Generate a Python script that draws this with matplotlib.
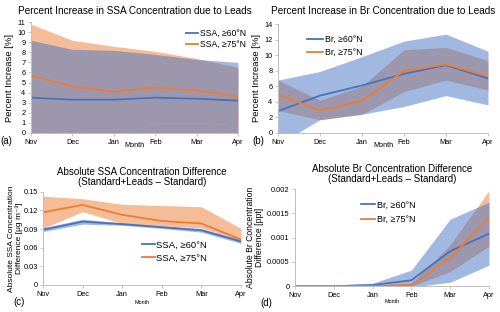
"""
Four-panel figure: percent increase and absolute difference of SSA and Br
concentrations due to leads, for >=60N and >=75N averages.
"""

import numpy as np
import matplotlib
matplotlib.use("Agg")
import matplotlib.pyplot as plt

plt.rcParams["font.family"] = ["Liberation Sans", "DejaVu Sans"]

MONTHS = ["Nov", "Dec", "Jan", "Feb", "Mar", "Apr"]

# (a) percent increase SSA
ssa60_pct = [3.5, 3.3, 3.3, 3.5, 3.4, 3.2]
ssa60_pct_lo = [0.5, 0.0, -0.4, 1.0, 1.0, 0.8]
ssa60_pct_hi = [9.2, 8.3, 8.2, 7.8, 7.3, 7.0]
ssa75_pct = [5.7, 4.6, 4.1, 4.5, 4.2, 3.6]
ssa75_pct_lo = [-1.0, -1.0, -1.0, -1.0, -1.0, -1.0]
ssa75_pct_hi = [10.8, 9.2, 8.6, 8.1, 7.4, 6.5]

# (b) percent increase Br
br60_pct = [2.8, 4.8, 6.1, 7.6, 8.7, 7.0]
br60_pct_lo = [-1.5, 1.7, 2.4, 3.4, 4.8, 3.6]
br60_pct_hi = [6.8, 7.9, 9.8, 11.8, 12.7, 10.5]
br75_pct = [4.9, 2.9, 4.1, 8.0, 8.8, 7.3]
br75_pct_lo = [2.9, 1.7, 2.4, 5.3, 6.8, 5.5]
br75_pct_hi = [6.8, 4.2, 6.0, 10.7, 11.0, 9.3]

# (c) absolute SSA difference [ug m-3]
ssa60_abs = [0.089, 0.102, 0.098, 0.093, 0.088, 0.070]
ssa60_abs_lo = [0.086, 0.098, 0.096, 0.091, 0.085, 0.067]
ssa60_abs_hi = [0.092, 0.106, 0.100, 0.095, 0.091, 0.073]
ssa75_abs = [0.117, 0.129, 0.113, 0.103, 0.099, 0.073]
ssa75_abs_lo = [0.091, 0.118, 0.099, 0.095, 0.092, 0.072]
ssa75_abs_hi = [0.143, 0.139, 0.130, 0.128, 0.126, 0.091]

# (d) absolute Br difference [ppt]
br60_abs = [0.0, 0.0, 0.00002, 0.00012, 0.00072, 0.00108]
br60_abs_lo = [0.0, 0.0, 0.0, -0.00002, 0.00008, 0.00043]
br60_abs_hi = [0.00001, 0.00002, 0.00006, 0.00033, 0.00138, 0.00173]
br75_abs = [0.0, 0.0, 0.0, 0.00003, 0.00058, 0.00141]
br75_abs_lo = [0.0, 0.0, 0.0, 0.0, 0.00030, 0.00082]
br75_abs_hi = [0.0, 0.0, 0.00001, 0.00005, 0.00085, 0.00197]

BLUE = "#4472C4"
ORANGE = "#ED7D31"
GRID = "#bfbfbf"


def style_axes(ax, ylim, yticks, yfmt=None):
    x = np.arange(len(MONTHS))
    ax.set_xlim(0, len(MONTHS) - 1)
    ax.set_ylim(*ylim)
    ax.set_xticks(x)
    ax.set_xticklabels(MONTHS, fontsize=5.3)
    ax.set_yticks(yticks)
    if yfmt is not None:
        ax.set_yticklabels([yfmt(v) for v in yticks])
    ax.tick_params(axis="y", labelsize=5.3, length=2.5, width=0.6, color=GRID, pad=1.5)
    ax.tick_params(axis="x", length=2.5, width=0.6, color=GRID, pad=2)
    for s in ("top", "right"):
        ax.spines[s].set_visible(False)
    for s in ("left", "bottom"):
        ax.spines[s].set_color(GRID)
        ax.spines[s].set_linewidth(0.7)


def draw(ax, s60, s75, label60, label75, extra_blue=False):
    x = np.arange(len(MONTHS))
    (m60, lo60, hi60), (m75, lo75, hi75) = s60, s75
    ax.fill_between(x, lo75, hi75, color=ORANGE, alpha=0.5, lw=0)
    ax.fill_between(x, lo60, hi60, color=BLUE, alpha=0.5, lw=0)
    if extra_blue:
        ax.fill_between(x, ax.get_ylim()[0], lo60, color=BLUE, alpha=0.5, lw=0)
    ax.plot(x, m60, color=BLUE, lw=1.3, label=label60)
    ax.plot(x, m75, color=ORANGE, lw=1.3, label=label75)


fig = plt.figure(figsize=(5, 3.12), dpi=100)

# (a)
ax = fig.add_axes([0.062, 0.574, 0.414, 0.355])
style_axes(ax, (0, 11), range(0, 12))
draw(ax, (ssa60_pct, ssa60_pct_lo, ssa60_pct_hi),
     (ssa75_pct, ssa75_pct_lo, ssa75_pct_hi),
     "SSA, ≥60°N", "SSA, ≥75°N", extra_blue=True)
ax.set_title("Percent Increase in SSA Concentration due to Leads", fontsize=7.2, pad=6)
ax.set_ylabel("Percent Increase [%]", fontsize=6.8, labelpad=2)
ax.legend(loc="upper right", bbox_to_anchor=(1.07, 0.99), fontsize=6.2, frameon=False,
          handlelength=1.4, handletextpad=0.3, labelspacing=0.2, borderaxespad=0.3)
ax.text(-0.15, -0.075, "(a)", transform=ax.transAxes, fontsize=7, va="center")
ax.text(0.5, -0.11, "Month", transform=ax.transAxes, fontsize=5.2, ha="center", va="center")

# (b)
ax = fig.add_axes([0.556, 0.574, 0.42, 0.349])
style_axes(ax, (0, 14), range(0, 15, 2))
draw(ax, (br60_pct, br60_pct_lo, br60_pct_hi),
     (br75_pct, br75_pct_lo, br75_pct_hi),
     "Br, ≥60°N", "Br, ≥75°N")
ax.set_title("Percent Increase in Br Concentration due to Leads", fontsize=7.2, pad=7)
ax.set_ylabel("Percent Increase [%]", fontsize=6.8, labelpad=2)
ax.legend(loc="upper left", bbox_to_anchor=(0.1, 0.97), fontsize=6.3, frameon=False,
          handlelength=1.8, handletextpad=0.3, labelspacing=0.45)
ax.text(-0.12, -0.075, "(b)", transform=ax.transAxes, fontsize=7, va="center")
ax.text(0.5, -0.12, "Month", transform=ax.transAxes, fontsize=5.2, ha="center", va="center")

# (c)
ax = fig.add_axes([0.086, 0.087, 0.396, 0.298])
style_axes(ax, (0, 0.15), np.arange(0, 0.151, 0.03),
           yfmt=lambda v: "0" if v == 0 else f"{v:.2f}")
ax.tick_params(axis="y", pad=1)
draw(ax, (ssa60_abs, ssa60_abs_lo, ssa60_abs_hi),
     (ssa75_abs, ssa75_abs_lo, ssa75_abs_hi),
     "SSA, ≥60°N", "SSA, ≥75°N")
ax.set_title("Absolute SSA Concentration Difference\n(Standard+Leads \u2013 Standard)",
             fontsize=7, pad=5, linespacing=1.05)
ax.set_ylabel("Absolute SSA Concentration\nDifference [μg m\u207b\u00b3]", fontsize=6.0,
              labelpad=0.5, linespacing=1.0)
ax.legend(loc="lower left", bbox_to_anchor=(0.48, 0.2), fontsize=6.8, frameon=False,
          handlelength=1.4, handletextpad=0.15, labelspacing=0.4, borderaxespad=0)
ax.text(-0.15, -0.18, "(c)", transform=ax.transAxes, fontsize=7, va="center")
ax.text(0.5, -0.19, "Month", transform=ax.transAxes, fontsize=3.9, ha="center", va="center")

# (d)
ax = fig.add_axes([0.59, 0.083, 0.388, 0.311])
style_axes(ax, (0, 0.002), [0, 0.0005, 0.001, 0.0015, 0.002],
           yfmt=lambda v: "0" if v == 0 else f"{v:g}")
draw(ax, (br60_abs, br60_abs_lo, br60_abs_hi),
     (br75_abs, br75_abs_lo, br75_abs_hi),
     "Br, ≥60°N", "Br, ≥75°N")
ax.set_title("Absolute Br Concentration Difference\n(Standard+Leads \u2013 Standard)",
             fontsize=7, pad=5, linespacing=1.05)
ax.set_ylabel("Absolute Br Concentration\nDifference [ppt]", fontsize=6.2,
              labelpad=2, linespacing=1.0)
ax.legend(loc="upper left", bbox_to_anchor=(0.32, 0.92), fontsize=6.5, frameon=False,
          handlelength=1.6, handletextpad=0.2, labelspacing=0.6, borderaxespad=0)
ax.text(-0.18, -0.17, "(d)", transform=ax.transAxes, fontsize=7, va="center")
ax.text(0.5, -0.16, "Month", transform=ax.transAxes, fontsize=3.9, ha="center", va="center")

fig.savefig("out.png", dpi=100)
